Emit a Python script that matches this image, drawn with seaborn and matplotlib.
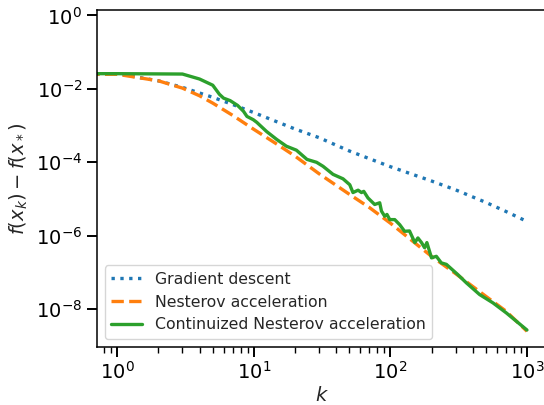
import numpy as np
import pandas as pd
import seaborn as sns
import matplotlib.pyplot as plt
from matplotlib.ticker import FixedLocator, NullLocator

# ---- data (k = iteration, f = f(x_k) - f(x_*)) ----
k_gd = [0, 1, 2, 3, 5, 7, 10, 15, 20, 30, 50, 70, 100, 150, 200, 300, 500, 700, 1000]
f_gd = [0.525, 0.026, 0.0166, 0.011, 0.0059, 0.00376, 0.00226, 0.00124, 0.00081, 0.00047,
        2.04e-4, 1.26e-4, 7.6e-5, 4.5e-5, 3.1e-5, 1.78e-5, 8.1e-6, 4.6e-6, 2.45e-6]

k_nest = [0, 1, 2, 3, 4, 5, 7, 10, 15, 20, 30, 50, 70, 100, 150, 200, 300, 500, 700, 1000]
f_nest = [0.525, 0.025, 0.0166, 0.0105, 0.0065, 0.0041, 0.0019, 7.9e-4, 3.0e-4, 1.48e-4, 4.9e-5,
          1.35e-5, 5.9e-6, 2.2e-6, 6.5e-7, 2.75e-7, 9.3e-8, 2.24e-8, 8.9e-9, 2.5e-9]

k_cont = [0, 1, 3, 4, 5, 5.6, 6, 6.7, 7.6, 8.4, 8.9, 9.9, 10.5, 12.4, 14.7, 17.3, 20.5, 24.5,
          28.8, 32.1, 38, 45, 50.4, 53.2, 58, 61.4, 63.8, 68.5, 76.7, 83.5, 86, 90.8, 94.4,
          98.9, 107.6, 117, 127, 138, 151, 159, 169, 178, 185, 200, 217, 236, 257, 312, 360,
          450, 564, 706, 1000]
f_cont = [0.525, 0.026, 0.0254, 0.0186, 0.0126, 0.0071, 0.0056, 0.0048, 0.00355, 0.00245,
          0.00178, 0.00145, 0.00123, 6.9e-4, 4.2e-4, 2.75e-4, 2.14e-4, 1.2e-4, 1.0e-4, 7.8e-5,
          4.7e-5, 3.55e-5, 2.45e-5, 1.5e-5, 1.74e-5, 1.5e-5, 1.62e-5, 1.07e-5, 7.1e-6, 7.9e-6,
          4.7e-6, 3.4e-6, 3.8e-6, 2.75e-6, 2.75e-6, 2.0e-6, 1.32e-6, 1.35e-6, 6.5e-7, 8.7e-7,
          6.5e-7, 4.7e-7, 6.5e-7, 2.5e-7, 2.75e-7, 1.82e-7, 1.66e-7, 8.7e-8, 5.2e-8, 2.5e-8,
          1.48e-8, 7.9e-9, 2.7e-9]

labels = ["Gradient descent", "Nesterov acceleration", "Continuized Nesterov acceleration"]
colors = ["#1f77b4", "#ff7f0e", "#2ca02c"]
# -------------------------------------------------------------------------

sns.set_theme(style="ticks")
plt.rcParams["font.family"] = ["DejaVu Sans"]
plt.rcParams["mathtext.fontset"] = "dejavusans"

fig = plt.figure(figsize=(5.44, 4.05), dpi=100)
ax = fig.add_axes([0.178, 0.1444, 0.8283, 0.8297])

lw = 2.4
sns.lineplot(x=k_gd, y=f_gd, ax=ax, color=colors[0], linestyle=":", lw=lw, label=labels[0])
sns.lineplot(x=k_nest, y=f_nest, ax=ax, color=colors[1], linestyle="--", lw=lw, label=labels[1])
sns.lineplot(x=k_cont, y=f_cont, ax=ax, color=colors[2], linestyle="-", lw=lw, label=labels[2])

# switch to log scale after plotting so the k=0 point is clipped like plain matplotlib
ax.set_xscale("log")
ax.set_yscale("log")
ax.relim()
ax.autoscale_view()

ax.yaxis.set_major_locator(FixedLocator([1e-8, 1e-6, 1e-4, 1e-2, 1e0]))
ax.yaxis.set_minor_locator(NullLocator())

ax.set_xlabel("$k$", fontsize=14, labelpad=2)
ax.set_ylabel("$f(x_k) - f(x_*)$", fontsize=14, labelpad=4)
ax.tick_params(axis="both", which="major", labelsize=14, length=7, width=1.4, colors="black")
ax.tick_params(axis="x", which="minor", length=4, width=1.0, colors="black")
for sp in ax.spines.values():
    sp.set_linewidth(1.1)
    sp.set_color("black")

ax.legend(loc="lower left", fontsize=11.3, frameon=True)

plt.savefig("out.png", dpi=100)
